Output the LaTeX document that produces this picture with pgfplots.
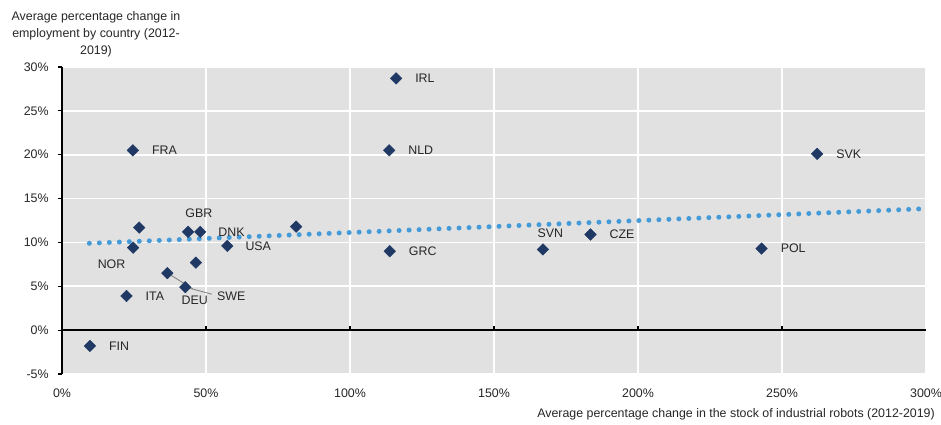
\documentclass[border=0pt]{standalone}
\usepackage{fontspec}
\setmainfont{Liberation Sans}
\usepackage{pgfplots}
\pgfplotsset{compat=1.18}
\definecolor{bggray}{RGB}{225,225,225}
\definecolor{navy}{RGB}{31,56,100}
\definecolor{trendblue}{RGB}{69,155,215}
\definecolor{leader}{RGB}{140,140,140}

\begin{document}
\fontsize{12.4}{14.8}\selectfont
\begin{tikzpicture}
  \useasboundingbox (-62pt,-51pt) rectangle (879pt,374pt);
  \begin{axis}[
      scale only axis, width=864pt, height=307pt,
      xmin=0, xmax=300, ymin=-5, ymax=30,
      axis background/.style={fill=bggray},
      axis y line*=left, axis x line*=bottom,
      x axis line style={draw=none},
      y axis line style={black, line width=1.4pt},
      xtick={0,50,100,150,200,250,300},
      xticklabels={0\%,50\%,100\%,150\%,200\%,250\%,300\%},
      ytick={-5,0,5,10,15,20,25,30},
      yticklabels={-5\%,0\%,5\%,10\%,15\%,20\%,25\%,30\%},
      xtick style={draw=none},
      ytick style={black, line width=1.2pt},
      tick align=outside, major tick length=4pt,
      grid=major, major grid style={white, line width=1.8pt},
      tick label style={font=\fontsize{12.4}{14}\selectfont, text=black!85},
      yticklabel style={xshift=-5pt},
      xticklabel style={yshift=-7pt},
      xlabel={Average percentage change in the stock of industrial robots (2012-2019)},
      xlabel style={at={(axis description cs:1,0)}, anchor=base east, xshift=9pt, yshift=-43pt, inner sep=0pt, font=\fontsize{12.4}{14}\selectfont, text=black!85},
      ylabel={Average percentage change in\\employment by country (2012-\\2019)},
      ylabel style={rotate=-90, at={(axis description cs:0,1)}, anchor=south, align=center, inner sep=0pt, xshift=34pt, yshift=10pt, font=\fontsize{12.4}{17}\selectfont, text=black!85},
      clip=false,
    ]
    % zero line with small ticks
    \draw[black, line width=1.3pt] (axis cs:0,0) -- (axis cs:300,0);
    \pgfplotsinvokeforeach{50,100,150,200,250}{
      \draw[black, line width=1.2pt] (axis cs:#1,0) -- ++(0pt,4pt);
    }
    % fitted trend
    \addplot[trendblue, line width=5pt, line cap=round, dash pattern=on 0pt off 10pt] coordinates {(9.5,9.9) (300,13.85)};
    % leader lines
    \draw[leader, line width=1pt] (axis cs:36.7,6.5) -- (axis cs:45.4,4.7);
    \draw[leader, line width=1pt] (axis cs:42.9,4.9) -- (axis cs:52.0,4.1);
    % countries
    \addplot[only marks, mark=square*, mark size=4.1pt, mark options={rotate=45, fill=navy, draw=navy}] coordinates {
      (9.7,-1.8) (22.4,3.9) (24.7,9.4) (26.8,11.7) (24.6,20.5)
      (36.6,6.5) (42.8,4.9) (43.8,11.2) (48.0,11.2) (46.5,7.7)
      (57.4,9.6) (81.3,11.8) (113.6,20.5) (116.0,28.7) (113.8,9.0)
      (167.0,9.2) (183.5,10.9) (242.9,9.3) (262.2,20.1)
    };
    \begin{scope}[every node/.style={inner sep=0pt, text=black!85, font=\fontsize{12.4}{14}\selectfont}]
      \node[anchor=west, xshift=19pt] at (axis cs:9.7,-1.8) {FIN};
      \node[anchor=west, xshift=19pt] at (axis cs:22.4,3.9) {ITA};
      \node[anchor=west, xshift=19pt] at (axis cs:24.6,20.5) {FRA};
      \node[anchor=west, xshift=19pt] at (axis cs:116.0,28.7) {IRL};
      \node[anchor=west, xshift=19pt] at (axis cs:113.6,20.5) {NLD};
      \node[anchor=west, xshift=19pt] at (axis cs:113.8,9.0) {GRC};
      \node[anchor=west, xshift=19pt] at (axis cs:183.5,10.9) {CZE};
      \node[anchor=west, xshift=19pt] at (axis cs:242.9,9.3) {POL};
      \node[anchor=west, xshift=19pt] at (axis cs:262.2,20.1) {SVK};
      \node[anchor=west, xshift=18pt] at (axis cs:48.0,11.2) {DNK};
      \node[anchor=west, xshift=18pt] at (axis cs:57.4,9.6) {USA};
      \node at (axis cs:47.5,13.3) {GBR};
      \node at (axis cs:17.2,7.5) {NOR};
      \node at (axis cs:169.6,11.1) {SVN};
      \node at (axis cs:46.1,3.4) {DEU};
      \node at (axis cs:58.8,3.9) {SWE};
    \end{scope}
  \end{axis}
\end{tikzpicture}
\end{document}
